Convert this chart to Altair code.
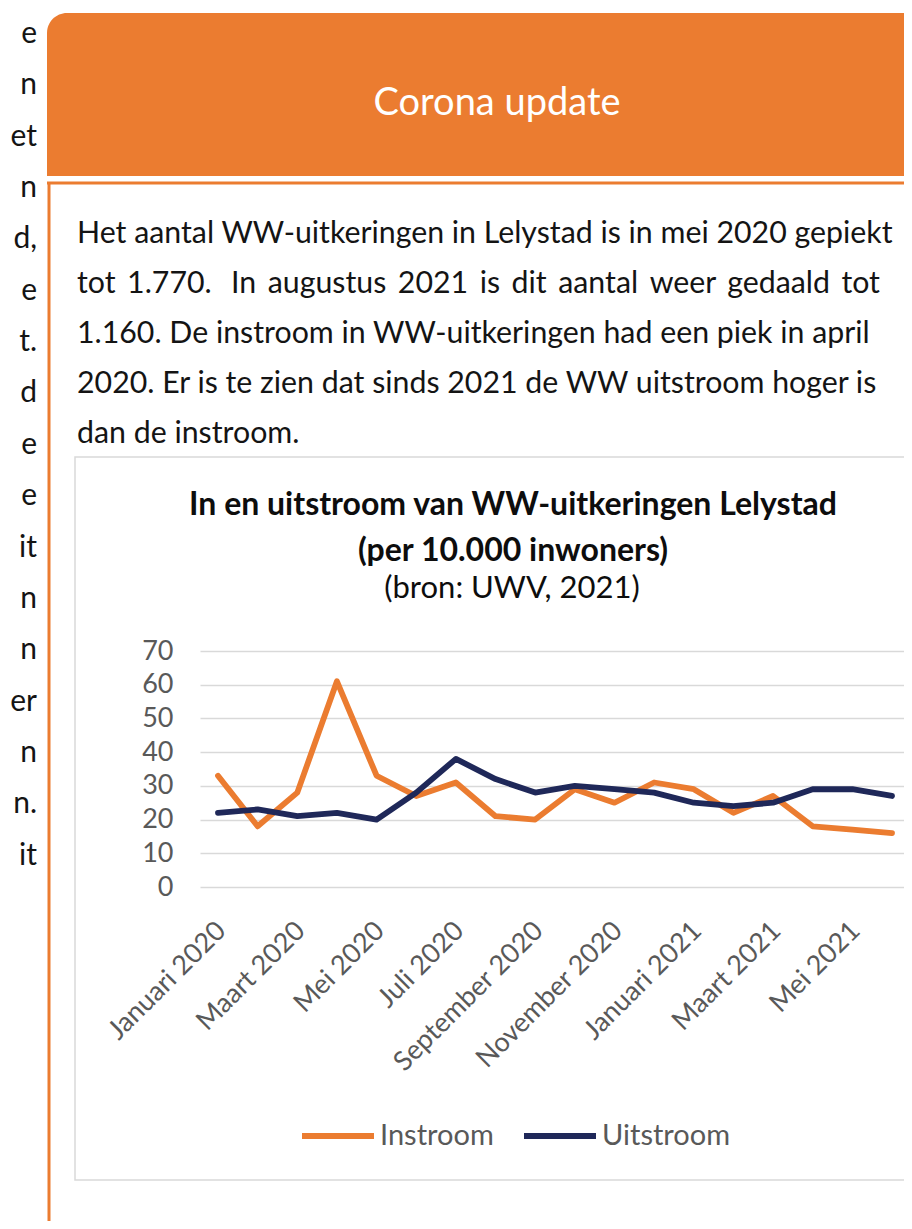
import altair as alt
import pandas as pd

# ---------------- data ----------------
months = ["Januari 2020", "Februari 2020", "Maart 2020", "April 2020", "Mei 2020", "Juni 2020",
          "Juli 2020", "Augustus 2020", "September 2020", "Oktober 2020", "November 2020",
          "December 2020", "Januari 2021", "Februari 2021", "Maart 2021", "April 2021",
          "Mei 2021", "Juni 2021"]
instroom = [33, 18, 28, 61, 33, 27, 31, 21, 20, 29, 25, 31, 29, 22, 27, 18, 17, 16]
uitstroom = [22, 23, 21, 22, 20, 28, 38, 32, 28, 30, 29, 28, 25, 24, 25, 29, 29, 27]
series = ["Instroom", "Uitstroom"]
y_ticks = [0, 10, 20, 30, 40, 50, 60, 70]
x_ticks = months[::2]

header_text = "Corona update"
TS = " \u2009"  # widened (justified) word gap
paragraph = [
    "Het aantal WW-uitkeringen in Lelystad is in mei 2020 gepiekt",
    TS.join(["tot", "1.770.\u00a0", "In", "augustus", "2021", "is", "dit", "aantal",
             "weer", "gedaald", "tot"]),
    "1.160. De instroom in WW-uitkeringen had een piek in april",
    "2020. Er is te zien dat sinds 2021 de WW uitstroom hoger is",
    "dan de instroom.",
]
left_fragments = ["e", "n", "et", "n", "d,", "e", "t.", "d", "e", "e", "it", "n", "n",
                  "er", "n", "n.", "it"]
title_lines = ["In en uitstroom van WW-uitkeringen Lelystad", "(per 10.000 inwoners)"]
subtitle = "(bron: UWV, 2021)"

df = pd.DataFrame({
    "maand": months * 2,
    "reeks": [series[0]] * len(months) + [series[1]] * len(months),
    "waarde": instroom + uitstroom,
})

ORANGE = "#EB7C30"
NAVY = "#1F2859"
FONT = "Lato, DejaVu Sans"
GREY = "#595959"

one = pd.DataFrame({"k": [0]})

def deco():
    return alt.Chart(one)

# ---------------- decorations ----------------
header = deco().mark_rect(color=ORANGE, cornerRadiusTopLeft=20).encode(
    x=alt.value(-153), x2=alt.value(730), y=alt.value(-638), y2=alt.value(-475))
hline = deco().mark_rule(color=ORANGE, strokeWidth=3).encode(
    x=alt.value(-153), x2=alt.value(730), y=alt.value(-468))
vline = deco().mark_rule(color=ORANGE, strokeWidth=3).encode(
    x=alt.value(-151), y=alt.value(-468), y2=alt.value(600))
header_t = deco().mark_text(font=FONT, fontSize=38, color="white", align="center",
                            baseline="alphabetic").encode(
    x=alt.value(297), y=alt.value(-536), text=alt.value(header_text))
para_t = deco().mark_text(font=FONT, fontSize=30.3, color="#141414", align="left",
                          baseline="alphabetic", lineHeight=50).encode(
    x=alt.value(-123), y=alt.value(-408), text=alt.value(paragraph))
left_t = deco().mark_text(font=FONT, fontSize=30, color="#141414", align="right",
                          baseline="alphabetic", lineHeight=51.35).encode(
    x=alt.value(-163), y=alt.value(-608), text=alt.value(left_fragments))
box = deco().mark_rect(fillOpacity=0, stroke="#d9d9d9", strokeWidth=1.5).encode(
    x=alt.value(-125), x2=alt.value(730), y=alt.value(-194), y2=alt.value(529))
title_t = deco().mark_text(font=FONT, fontSize=32, fontWeight="bold", color="#0d0d0d",
                           align="center", baseline="alphabetic", lineHeight=46).encode(
    x=alt.value(313), y=alt.value(-136), text=alt.value(title_lines))
sub_t = deco().mark_text(font=FONT, fontSize=31, color="#0d0d0d", align="center",
                         baseline="alphabetic").encode(
    x=alt.value(312), y=alt.value(-53), text=alt.value(subtitle))

# ---------------- chart ----------------
lines = alt.Chart(df).mark_line(strokeWidth=5.8, strokeJoin="round", strokeCap="round").encode(
    x=alt.X("maand:N", sort=months,
            scale=alt.Scale(type="point", padding=0.3783, align=0.6),
            axis=alt.Axis(values=x_ticks, labelAngle=-45, labelAlign="right",
                          labelBaseline="top", labelPadding=30, labelOffset=-6,
                          ticks=False, tickSize=0, domain=False, grid=False, title=None,
                          labelFontSize=27, labelColor=GREY, labelFont=FONT,
                          labelOverlap=False, labelLimit=0)),
    y=alt.Y("waarde:Q", scale=alt.Scale(domain=[0, 70], nice=False),
            axis=alt.Axis(values=y_ticks, ticks=False, tickSize=0, domain=False, title=None,
                          labelPadding=27, labelFontSize=27, labelColor=GREY,
                          labelFont=FONT, gridColor="#d9d9d9", gridWidth=1.5)),
    color=alt.Color("reeks:N", sort=series,
                    scale=alt.Scale(domain=series, range=[ORANGE, NAVY]),
                    legend=alt.Legend(orient="none", legendX=99, legendY=446,
                                      direction="horizontal", title=None,
                                      symbolType="stroke", symbolSize=5184,
                                      symbolStrokeWidth=6, labelFontSize=29,
                                      labelColor=GREY, labelFont=FONT, labelOffset=3,
                                      columnPadding=18, padding=0)),
)

chart = alt.layer(header, hline, vline, header_t, para_t, left_t, box, title_t, sub_t, lines).properties(
    width=704, height=236,
    padding={"left": 192, "top": 643, "right": 0, "bottom": 334},
    autosize=alt.AutoSizeParams(type="none"),
    background="white",
).configure_view(stroke=None)

chart.save("out.html", embed_options={"renderer": "svg", "actions": False})
